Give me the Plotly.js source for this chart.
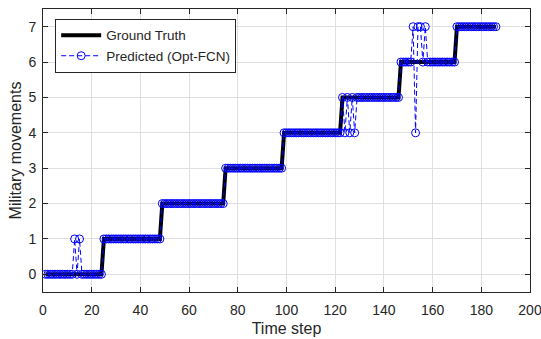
<!DOCTYPE html>
<html>
<head>
<meta charset="utf-8">
<script src="https://cdn.plot.ly/plotly-3.0.1.min.js"></script>
<style>html,body{margin:0;padding:0;background:#fff;}#chart{width:541px;height:339px;}</style>
</head>
<body>
<div id="chart"></div>
<script>
var timeSteps = [
  1,2,3,4,5,6,7,8,9,10,
  11,12,13,14,15,16,17,18,19,20,
  21,22,23,24,25,26,27,28,29,30,
  31,32,33,34,35,36,37,38,39,40,
  41,42,43,44,45,46,47,48,49,50,
  51,52,53,54,55,56,57,58,59,60,
  61,62,63,64,65,66,67,68,69,70,
  71,72,73,74,75,76,77,78,79,80,
  81,82,83,84,85,86,87,88,89,90,
  91,92,93,94,95,96,97,98,99,100,
  101,102,103,104,105,106,107,108,109,110,
  111,112,113,114,115,116,117,118,119,120,
  121,122,123,124,125,126,127,128,129,130,
  131,132,133,134,135,136,137,138,139,140,
  141,142,143,144,145,146,147,148,149,150,
  151,152,153,154,155,156,157,158,159,160,
  161,162,163,164,165,166,167,168,169,170,
  171,172,173,174,175,176,177,178,179,180,
  181,182,183,184,185,186
];
var groundTruth = [
  0,0,0,0,0,0,0,0,0,0,
  0,0,0,0,0,0,0,0,0,0,
  0,0,0,0,1,1,1,1,1,1,
  1,1,1,1,1,1,1,1,1,1,
  1,1,1,1,1,1,1,1,2,2,
  2,2,2,2,2,2,2,2,2,2,
  2,2,2,2,2,2,2,2,2,2,
  2,2,2,2,3,3,3,3,3,3,
  3,3,3,3,3,3,3,3,3,3,
  3,3,3,3,3,3,3,3,4,4,
  4,4,4,4,4,4,4,4,4,4,
  4,4,4,4,4,4,4,4,4,4,
  4,4,5,5,5,5,5,5,5,5,
  5,5,5,5,5,5,5,5,5,5,
  5,5,5,5,5,5,6,6,6,6,
  6,6,6,6,6,6,6,6,6,6,
  6,6,6,6,6,6,6,6,6,7,
  7,7,7,7,7,7,7,7,7,7,
  7,7,7,7,7,7
];
var predicted = [
  0,0,0,0,0,0,0,0,0,0,
  0,0,1,0,1,0,0,0,0,0,
  0,0,0,0,1,1,1,1,1,1,
  1,1,1,1,1,1,1,1,1,1,
  1,1,1,1,1,1,1,1,2,2,
  2,2,2,2,2,2,2,2,2,2,
  2,2,2,2,2,2,2,2,2,2,
  2,2,2,2,3,3,3,3,3,3,
  3,3,3,3,3,3,3,3,3,3,
  3,3,3,3,3,3,3,3,4,4,
  4,4,4,4,4,4,4,4,4,4,
  4,4,4,4,4,4,4,4,4,4,
  4,4,5,4,5,4,5,4,5,5,
  5,5,5,5,5,5,5,5,5,5,
  5,5,5,5,5,5,6,6,6,6,
  6,7,4,7,7,6,7,6,6,6,
  6,6,6,6,6,6,6,6,6,7,
  7,7,7,7,7,7,7,7,7,7,
  7,7,7,7,7,7
];
var xTicks = [0,20,40,60,80,100,120,140,160,180,200];
var yTicks = [0,1,2,3,4,5,6,7];
var seriesNames = ['Ground Truth', 'Predicted (Opt-FCN)'];

var traces = [
  {x: timeSteps, y: groundTruth, name: seriesNames[0], type: 'scatter', mode: 'lines',
   line: {color: '#000000', width: 4}},
  {x: timeSteps, y: predicted, name: seriesNames[1], type: 'scatter', mode: 'lines+markers',
   line: {color: '#0000ff', width: 1, dash: '5px,3px'},
   marker: {symbol: 'circle-open', size: 8, color: '#0000ff', line: {width: 1, color: '#0000ff'}}}
];

var axisCommon = {
  showline: true, linecolor: '#262626', linewidth: 1, mirror: 'ticks',
  ticks: 'inside', ticklen: 5, tickcolor: '#262626', tickwidth: 1,
  showgrid: true, gridcolor: '#dfdfdf', gridwidth: 1, zeroline: false,
  ticklabeloverflow: 'allow', automargin: false,
  tickfont: {family: 'Liberation Sans, Arial, sans-serif', size: 14, color: '#262626'}
};

var layout = {
  width: 541, height: 339,
  margin: {l: 43, r: 11, t: 9, b: 47},
  paper_bgcolor: '#ffffff', plot_bgcolor: '#ffffff',
  font: {family: 'Liberation Sans, Arial, sans-serif', color: '#262626'},
  showlegend: true,
  xaxis: Object.assign({}, axisCommon, {
    range: [0, 200], tickvals: xTicks, ticktext: xTicks.map(String),
    ticklabelstandoff: 5,
    title: {text: 'Time step', font: {size: 16, color: '#262626'}, standoff: 6}
  }),
  yaxis: Object.assign({}, axisCommon, {
    range: [-0.5, 7.5], tickvals: yTicks, ticktext: yTicks.map(String),
    ticklabelstandoff: 3,
    title: {text: 'Military movements', font: {size: 16, color: '#262626'}, standoff: 2}
  }),
  legend: {
    x: 0.025, y: 0.965, xanchor: 'left', yanchor: 'top',
    bgcolor: '#ffffff', bordercolor: '#262626', borderwidth: 1,
    font: {size: 13.5, color: '#262626'}, itemwidth: 40, tracegroupgap: 0
  }
};

Plotly.newPlot('chart', traces, layout, {staticPlot: true, displayModeBar: false});
</script>
</body>
</html>
